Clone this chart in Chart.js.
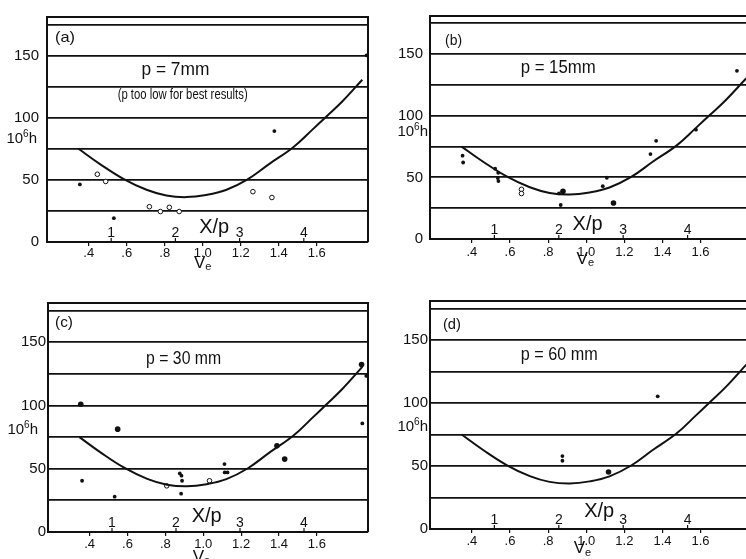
<!DOCTYPE html>
<html><head><meta charset="utf-8">
<script src="https://cdn.jsdelivr.net/npm/chart.js@4.4.0/dist/chart.umd.min.js"></script>
<style>
html,body{margin:0;padding:0;width:746px;height:559px;overflow:hidden;background:#fff;position:relative}
canvas{position:absolute;display:block}
</style></head><body>
<canvas id="ca"></canvas><canvas id="cb"></canvas><canvas id="cc"></canvas><canvas id="cd"></canvas>
<script>
// ---------- data ----------
const veTicks = [0.4, 0.6, 0.8, 1.0, 1.2, 1.4, 1.6];
const veTickLabels = ['.4', '.6', '.8', '1.0', '1.2', '1.4', '1.6'];
const xpTicks = [1, 2, 3, 4];
const hTicks = [0, 25, 50, 75, 100, 125, 150, 175];
const hTickLabels = ['0', '', '50', '', '100', '', '150', ''];

// theoretical curve (same in all panels)
const curveVe = [0.346, 0.459, 0.582, 0.704, 0.808, 0.913, 1.018, 1.122, 1.236, 1.349, 1.475, 1.576, 1.650, 1.733, 1.84];
const curveH  = [75, 62.7, 50.8, 42, 37.4, 36.1, 37.8, 41.8, 50.4, 62.7, 76, 90.2, 100.8, 112.8, 130.5];

// (a) p = 7mm
const aDotVe = [0.353, 0.532, 1.377, 1.862];
const aDotH  = [46.3, 19.2, 89.2, 150.2];
const aRingVe = [0.445, 0.489, 0.719, 0.777, 0.824, 0.876, 1.264, 1.364];
const aRingH  = [54.5, 48.7, 28.4, 24.5, 27.9, 24.5, 40.5, 35.8];

// (b) p = 15mm
const bDotVe = [0.351, 0.354, 0.522, 0.538, 0.536, 0.539, 0.857, 0.866, 1.108, 1.087, 1.337, 1.367, 1.576, 1.791];
const bDotH  = [67.6, 62.1, 57.1, 53.7, 49.5, 47.0, 37.1, 27.6, 49.7, 42.9, 68.9, 79.7, 88.7, 136.5];
const bBigVe = [0.878, 1.143];
const bBigH  = [38.7, 29.2];
const bRingVe = [0.660, 0.660];
const bRingH  = [40.3, 36.9];

// (c) p = 30mm
const cDotVe = [0.36, 0.532, 0.876, 0.885, 0.888, 0.883, 1.112, 1.113, 1.128, 1.84, 1.861];
const cDotH  = [40.5, 27.9, 46.3, 44.5, 40.5, 30.3, 53.7, 47.1, 47.1, 85.8, 123.4];
const cBigVe = [0.353, 0.548, 1.389, 1.43, 1.836];
const cBigH  = [101, 81.3, 68.1, 57.6, 132.3];
const cRingVe = [0.807, 1.033];
const cRingH  = [36.5, 40.5];

// (d) p = 60mm
const dDotVe = [0.875, 0.875, 1.375];
const dDotH  = [57.9, 54.2, 105.3];
const dBigVe = [1.117];
const dBigH  = [45.2];

// ---------- drawing ----------
const INK = '#111';
const FONT = '"Liberation Sans", Arial, sans-serif';
const VE_MIN = 0.18, VE_MAX = 1.87;

function txt(ctx, s, x, y, size, align, targetW) {
  ctx.font = size + 'px ' + FONT;
  ctx.textAlign = 'left';
  ctx.textBaseline = 'middle';
  const w = ctx.measureText(s).width;
  const sx = targetW ? targetW / w : 1;
  const ww = w * sx;
  const x0 = align === 'center' ? x - ww / 2 : (align === 'right' ? x - ww : x);
  ctx.save();
  ctx.translate(x0, y);
  ctx.scale(sx, 1);
  ctx.fillText(s, 0, 0);
  ctx.restore();
}

function annotPlugin(spec) {
  return {
    id: 'annot',
    afterDraw(chart) {
      const ctx = chart.ctx, ca = chart.chartArea;
      const x = chart.scales.x, y = chart.scales.y, xp = chart.scales.xp;
      ctx.save();
      ctx.strokeStyle = INK; ctx.fillStyle = INK;
      // frame top + right
      ctx.lineWidth = 2;
      ctx.beginPath();
      ctx.moveTo(ca.left, ca.top); ctx.lineTo(ca.right, ca.top); ctx.lineTo(ca.right, ca.bottom);
      ctx.stroke();
      // X/p scale marks
      ctx.lineWidth = 1.2;
      xpTicks.forEach(v => {
        const px = xp.getPixelForValue(v);
        ctx.beginPath(); ctx.moveTo(px, ca.bottom); ctx.lineTo(px, ca.bottom - 4); ctx.stroke();
        txt(ctx, String(v), px, ca.bottom - 9, 14, 'center');
      });
      // texts
      spec.texts.forEach(t => {
        txt(ctx, t.s, x.getPixelForValue(t.at[0]), y.getPixelForValue(t.at[1]), t.size, t.align || 'left', t.w);
      });
      // 10^6 h
      {
        const yy = y.getPixelForValue(spec.hY);
        ctx.font = '15px ' + FONT; const w1 = ctx.measureText('10').width, w3 = ctx.measureText('h').width;
        ctx.font = '10px ' + FONT; const w2 = ctx.measureText('6').width;
        let xx = ca.left + spec.hDx - (w1 + w2 + w3);
        txt(ctx, '10', xx, yy, 15, 'left'); xx += w1;
        txt(ctx, '6', xx, yy - 5, 10, 'left'); xx += w2;
        txt(ctx, 'h', xx, yy, 15, 'left');
      }
      // V_e
      {
        const xx = x.getPixelForValue(spec.veX), yy = ca.bottom + spec.veDy;
        ctx.font = '17px ' + FONT; const wv = ctx.measureText('V').width;
        ctx.font = '11px ' + FONT; const we = ctx.measureText('e').width;
        const x0 = xx - (wv + we) / 2;
        txt(ctx, 'V', x0, yy, 17, 'left');
        txt(ctx, 'e', x0 + wv, yy + 4, 11, 'left');
      }
      ctx.restore();
    }
  };
}

function pts(xs, ys) { return xs.map((v, i) => ({ x: v, y: ys[i] })); }

function makeChart(spec) {
  const cv = document.getElementById(spec.id);
  cv.width = spec.w; cv.height = spec.h;
  cv.style.left = spec.left + 'px'; cv.style.top = spec.top + 'px';
  cv.style.width = spec.w + 'px'; cv.style.height = spec.h + 'px';
  const datasets = [{
    type: 'line', data: pts(curveVe, curveH), xAxisID: 'x', yAxisID: 'y',
    borderColor: INK, borderWidth: 2, pointRadius: 0, tension: 0.4, fill: false
  }];
  if (spec.dot) datasets.push({ data: pts(spec.dot[0], spec.dot[1]), xAxisID: 'x', yAxisID: 'y', pointRadius: 1.9, backgroundColor: INK, borderWidth: 0 });
  if (spec.big) datasets.push({ data: pts(spec.big[0], spec.big[1]), xAxisID: 'x', yAxisID: 'y', pointRadius: 2.8, backgroundColor: INK, borderWidth: 0 });
  if (spec.ring) datasets.push({ data: pts(spec.ring[0], spec.ring[1]), xAxisID: 'x', yAxisID: 'y', pointRadius: 2.3, backgroundColor: '#fff', borderColor: INK, borderWidth: 1 });
  new Chart(cv, {
    type: 'scatter',
    data: { datasets },
    options: {
      responsive: false, animation: false, devicePixelRatio: 1, events: [],
      layout: { padding: { left: 0, top: spec.padT, right: spec.padR, bottom: 0 } },
      plugins: { legend: { display: false }, tooltip: { enabled: false } },
      scales: {
        x: {
          type: 'linear', min: VE_MIN, max: VE_MAX, position: 'bottom',
          afterFit(s) { s.height = spec.xH; },
          afterBuildTicks(s) { s.ticks = veTicks.map(v => ({ value: v })); },
          ticks: { callback: (v, i) => veTickLabels[i], autoSkip: false, maxRotation: 0, minRotation: 0,
                   padding: spec.xTickPad, color: INK, font: { family: FONT, size: 13 } },
          grid: { display: true, drawOnChartArea: false, drawTicks: true, tickLength: 4, color: INK, lineWidth: 1.2 },
          border: { display: true, color: INK, width: 2 }
        },
        xp: { type: 'linear', min: 0, max: 5, position: 'bottom', display: false },
        y: {
          type: 'linear', min: 0, max: 181, position: 'left',
          afterFit(s) { s.width = spec.yW; },
          afterBuildTicks(s) { s.ticks = hTicks.map(v => ({ value: v })); },
          ticks: { callback: (v, i) => hTickLabels[i], autoSkip: false, padding: spec.yPad,
                   color: INK, font: { family: FONT, size: 15 } },
          grid: { color: INK, lineWidth: 1.8, drawTicks: false },
          border: { display: true, color: INK, width: 2 }
        }
      }
    },
    plugins: [annotPlugin(spec)]
  });
}

makeChart({ id: 'ca', left: 0, top: 0, w: 373, h: 280, padT: 13, padR: 3, yW: 47, xH: 38, yPad: 8, xTickPad: 0,
  dot: [aDotVe, aDotH], ring: [aRingVe, aRingH],
  hY: 83, hDx: -10, veX: 1.0, veDy: 21,
  texts: [
    { s: '(a)', at: [0.222, 164], size: 15, w: 20 },
    { s: 'p = 7mm', at: [0.677, 138], size: 18, w: 68 },
    { s: '(p too low for best results)', at: [0.552, 118], size: 15, w: 130 },
    { s: 'X/p', at: [1.06, 12], size: 20, align: 'center', w: 30 }
  ] });

makeChart({ id: 'cb', left: 373, top: 0, w: 385, h: 280, padT: 12, padR: 6, yW: 57, xH: 41, yPad: 7, xTickPad: 2,
  dot: [bDotVe, bDotH], big: [bBigVe, bBigH], ring: [bRingVe, bRingH],
  hY: 87, hDx: -2, veX: 0.995, veDy: 20,
  texts: [
    { s: '(b)', at: [0.259, 161], size: 15, w: 17 },
    { s: 'p = 15mm', at: [0.656, 139], size: 18, w: 75 },
    { s: 'X/p', at: [1.007, 12], size: 20, align: 'center', w: 30 }
  ] });

makeChart({ id: 'cc', left: 0, top: 280, w: 373, h: 279, padT: 23, padR: 2, yW: 48, xH: 27, yPad: 2, xTickPad: 1,
  dot: [cDotVe, cDotH], big: [cBigVe, cBigH], ring: [cRingVe, cRingH],
  hY: 80.5, hDx: -10, veX: 0.99, veDy: 25,
  texts: [
    { s: '(c)', at: [0.217, 165], size: 15, w: 18 },
    { s: 'p = 30 mm', at: [0.698, 137], size: 18, w: 75 },
    { s: 'X/p', at: [1.018, 12], size: 20, align: 'center', w: 30 }
  ] });

makeChart({ id: 'cd', left: 373, top: 280, w: 385, h: 279, padT: 21, padR: 6, yW: 57, xH: 30, yPad: 2, xTickPad: 1,
  dot: [dDotVe, dDotH], big: [dBigVe, dBigH],
  hY: 81, hDx: -2, veX: 0.98, veDy: 19.5,
  texts: [
    { s: '(d)', at: [0.248, 162], size: 15, w: 18 },
    { s: 'p = 60 mm', at: [0.656, 138], size: 18, w: 77 },
    { s: 'X/p', at: [1.068, 14], size: 20, align: 'center', w: 30 }
  ] });
</script>
</body></html>
